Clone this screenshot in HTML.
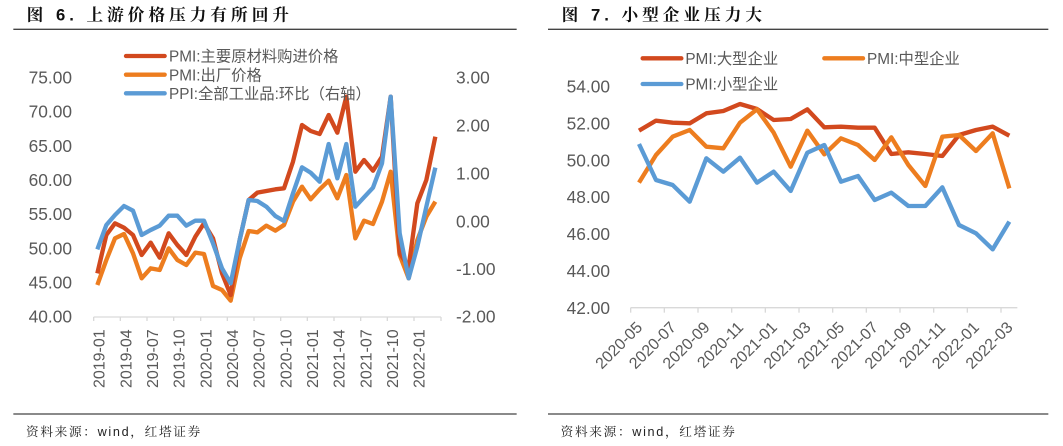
<!DOCTYPE html>
<html><head><meta charset="utf-8"><style>
html,body{margin:0;padding:0;background:#fff;width:1063px;height:446px;overflow:hidden}
svg{position:absolute;top:0}
text{font-family:"Liberation Sans","Noto Sans CJK SC",sans-serif}
.t{font-family:"Liberation Sans","Noto Serif CJK SC",serif;letter-spacing:12px}
.s{font-family:"Liberation Sans","Noto Serif CJK SC",serif;letter-spacing:5px}
</style></head><body>
<svg style="left:0" width="530" height="446" viewBox="0 0 1590 1338">
<text class="t" x="80" y="62" font-size="50" font-weight="bold" fill="#111">图 6. 上游价格压力有所回升</text>
<line x1="40" y1="88" x2="1550" y2="88" stroke="#444" stroke-width="4"/>
<line x1="40" y1="1242" x2="1550" y2="1242" stroke="#444" stroke-width="4"/>
<text class="s" x="78" y="1308" font-size="38" fill="#222">资料来源：wind，红塔证券</text>
<g font-size="52" fill="#595959">
<g text-anchor="end"><text x="216" y="250">75.00</text><text x="216" y="353">70.00</text><text x="216" y="456">65.00</text><text x="216" y="558">60.00</text><text x="216" y="660">55.00</text><text x="216" y="763">50.00</text><text x="216" y="865">45.00</text><text x="216" y="968">40.00</text></g>
<g><text x="1368" y="250">3.00</text><text x="1368" y="395">2.00</text><text x="1368" y="538">1.00</text><text x="1368" y="682">0.00</text><text x="1368" y="825">-1.00</text><text x="1368" y="968">-2.00</text></g>
</g>
<line x1="281" y1="951" x2="1323" y2="951" stroke="#d9d9d9" stroke-width="4"/>
<g stroke="#d9d9d9" stroke-width="4">
<line x1="281" y1="951" x2="281" y2="963"/><line x1="361" y1="951" x2="361" y2="963"/><line x1="441" y1="951" x2="441" y2="963"/><line x1="521" y1="951" x2="521" y2="963"/><line x1="602" y1="951" x2="602" y2="963"/><line x1="682" y1="951" x2="682" y2="963"/><line x1="762" y1="951" x2="762" y2="963"/><line x1="842" y1="951" x2="842" y2="963"/><line x1="922" y1="951" x2="922" y2="963"/><line x1="1002" y1="951" x2="1002" y2="963"/><line x1="1082" y1="951" x2="1082" y2="963"/><line x1="1162" y1="951" x2="1162" y2="963"/><line x1="1242" y1="951" x2="1242" y2="963"/><line x1="1323" y1="951" x2="1323" y2="963"/>
</g>
<g font-size="48" fill="#595959" text-anchor="end">
<text transform="translate(314,988) rotate(-90)">2019-01</text>
<text transform="translate(394,988) rotate(-90)">2019-04</text>
<text transform="translate(474,988) rotate(-90)">2019-07</text>
<text transform="translate(554,988) rotate(-90)">2019-10</text>
<text transform="translate(634,988) rotate(-90)">2020-01</text>
<text transform="translate(714,988) rotate(-90)">2020-04</text>
<text transform="translate(794,988) rotate(-90)">2020-07</text>
<text transform="translate(874,988) rotate(-90)">2020-10</text>
<text transform="translate(954,988) rotate(-90)">2021-01</text>
<text transform="translate(1034,988) rotate(-90)">2021-04</text>
<text transform="translate(1114,988) rotate(-90)">2021-07</text>
<text transform="translate(1194,988) rotate(-90)">2021-10</text>
<text transform="translate(1274,988) rotate(-90)">2022-01</text>
</g>
<g fill="none" stroke-width="13" stroke-linejoin="round">
<polyline stroke="#ed7d1f" points="292,855 319,780 345,715 372,702 399,760 425,835 452,805 479,810 506,745 532,780 559,795 586,758 612,762 639,858 666,870 692,902 719,775 746,693 772,697 799,677 826,692 852,675 879,605 906,560 932,598 959,568 986,542 1012,595 1039,525 1066,715 1092,662 1119,672 1146,605 1172,515 1199,765 1226,835 1252,720 1279,650 1306,605"/>
<polyline stroke="#d2491e" points="292,820 319,705 345,670 372,683 399,705 425,765 452,728 479,773 506,700 532,735 559,765 586,710 612,670 639,715 666,820 692,885 719,720 746,600 772,578 799,573 826,568 852,565 879,485 906,375 932,393 959,402 986,345 1012,398 1039,290 1066,515 1092,480 1119,512 1146,470 1172,290 1199,760 1226,800 1252,610 1279,540 1306,410"/>
<polyline stroke="#5b9bd5" points="292,748 319,675 345,645 372,618 399,632 425,705 452,690 479,677 506,647 532,647 559,677 586,662 612,662 639,730 666,805 692,850 719,720 746,600 772,603 799,620 826,648 852,663 879,580 906,502 932,518 959,545 986,432 1012,535 1039,432 1066,620 1092,592 1119,563 1146,490 1172,290 1199,700 1226,835 1252,740 1279,620 1306,503"/>
</g>
<g stroke-width="13" stroke-linecap="round">
<line x1="378" y1="168" x2="494" y2="168" stroke="#d2491e"/>
<line x1="378" y1="224" x2="494" y2="224" stroke="#ed7d1f"/>
<line x1="378" y1="280" x2="494" y2="280" stroke="#5b9bd5"/>
</g>
<g font-size="46" fill="#595959">
<text x="507" y="185">PMI:主要原材料购进价格</text>
<text x="507" y="241">PMI:出厂价格</text>
<text x="507" y="297">PPI:全部工业品:环比（右轴）</text>
</g>
</svg>
<svg style="left:530px" width="533" height="446" viewBox="0 0 1599 1338">
<text class="t" x="95" y="62" font-size="50" font-weight="bold" fill="#111">图 7. 小型企业压力大</text>
<line x1="54" y1="88" x2="1555" y2="88" stroke="#444" stroke-width="4"/>
<line x1="54" y1="1242" x2="1555" y2="1242" stroke="#444" stroke-width="4"/>
<text class="s" x="92" y="1308" font-size="38" fill="#222">资料来源：wind，红塔证券</text>
<g font-size="52" fill="#595959" text-anchor="end">
<text x="240" y="277">54.00</text><text x="240" y="388">52.00</text><text x="240" y="499">50.00</text><text x="240" y="609">48.00</text><text x="240" y="720">46.00</text><text x="240" y="831">44.00</text><text x="240" y="942">42.00</text>
</g>
<line x1="302" y1="923" x2="1462" y2="923" stroke="#d9d9d9" stroke-width="4"/>
<g stroke="#d9d9d9" stroke-width="4">
<line x1="302" y1="923" x2="302" y2="938"/><line x1="403" y1="923" x2="403" y2="938"/><line x1="504" y1="923" x2="504" y2="938"/><line x1="605" y1="923" x2="605" y2="938"/><line x1="706" y1="923" x2="706" y2="938"/><line x1="807" y1="923" x2="807" y2="938"/><line x1="908" y1="923" x2="908" y2="938"/><line x1="1009" y1="923" x2="1009" y2="938"/><line x1="1110" y1="923" x2="1110" y2="938"/><line x1="1211" y1="923" x2="1211" y2="938"/><line x1="1312" y1="923" x2="1312" y2="938"/><line x1="1413" y1="923" x2="1413" y2="938"/>
</g>
<g font-size="48" fill="#595959" text-anchor="end">
<text transform="translate(340,985) rotate(-45)">2020-05</text>
<text transform="translate(441,985) rotate(-45)">2020-07</text>
<text transform="translate(542,985) rotate(-45)">2020-09</text>
<text transform="translate(643,985) rotate(-45)">2020-11</text>
<text transform="translate(744,985) rotate(-45)">2021-01</text>
<text transform="translate(845,985) rotate(-45)">2021-03</text>
<text transform="translate(946,985) rotate(-45)">2021-05</text>
<text transform="translate(1047,985) rotate(-45)">2021-07</text>
<text transform="translate(1148,985) rotate(-45)">2021-09</text>
<text transform="translate(1249,985) rotate(-45)">2021-11</text>
<text transform="translate(1350,985) rotate(-45)">2022-01</text>
<text transform="translate(1451,985) rotate(-45)">2022-03</text>
</g>
<g fill="none" stroke-width="13" stroke-linejoin="round">
<polyline stroke="#d2491e" points="327,392 378,362 428,368 479,370 529,340 580,333 630,312 681,327 731,360 782,357 832,328 883,382 933,380 984,383 1034,383 1084,462 1135,457 1186,462 1237,468 1287,405 1338,390 1388,380 1438,407"/>
<polyline stroke="#ed7d1f" points="327,548 378,465 428,410 479,390 529,440 580,445 630,368 681,328 731,398 782,500 832,392 883,463 933,415 984,435 1034,480 1084,412 1135,495 1186,558 1237,410 1287,405 1338,453 1388,400 1438,565"/>
<polyline stroke="#5b9bd5" points="327,432 378,540 428,555 479,605 529,475 580,515 630,473 681,548 731,515 782,573 832,458 883,435 933,545 984,528 1034,600 1084,578 1135,618 1186,618 1237,562 1287,675 1338,700 1388,748 1438,665"/>
</g>
<g stroke-width="13" stroke-linecap="round">
<line x1="338" y1="175" x2="454" y2="175" stroke="#d2491e"/>
<line x1="883" y1="175" x2="999" y2="175" stroke="#ed7d1f"/>
<line x1="338" y1="252" x2="454" y2="252" stroke="#5b9bd5"/>
</g>
<g font-size="46" fill="#595959">
<text x="466" y="192">PMI:大型企业</text>
<text x="1011" y="192">PMI:中型企业</text>
<text x="466" y="269">PMI:小型企业</text>
</g>
</svg>
</body></html>
